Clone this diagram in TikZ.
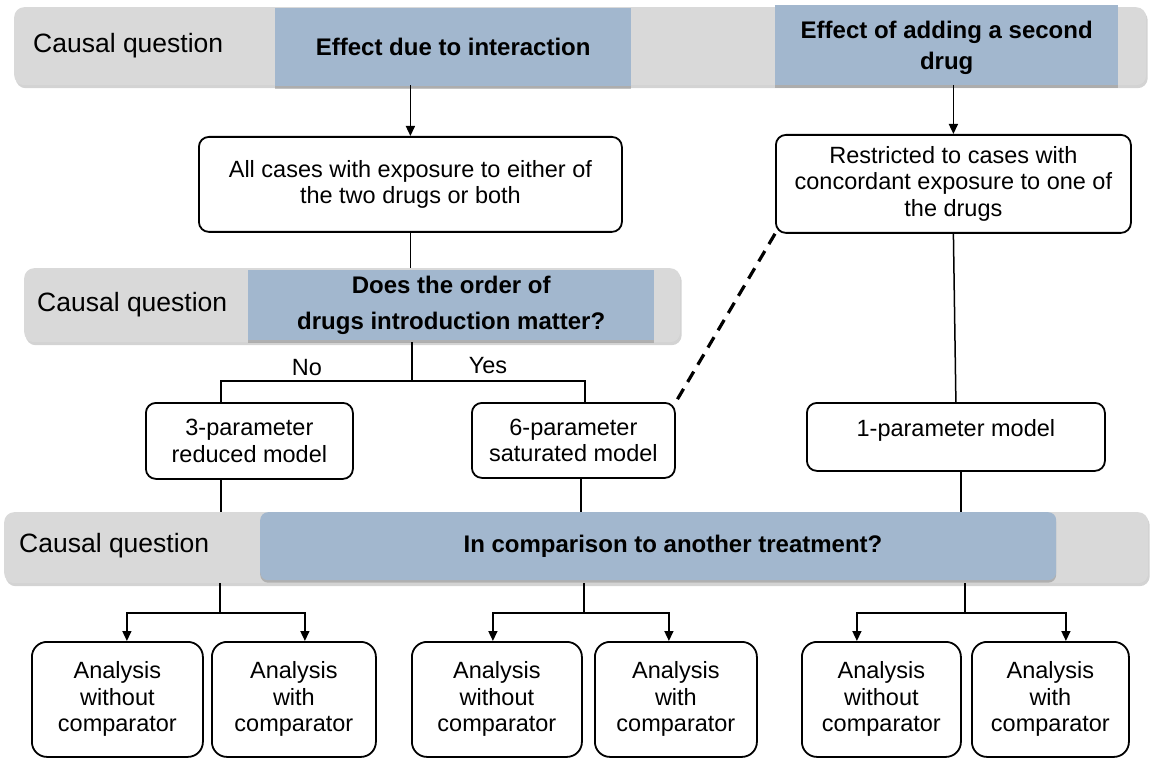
\documentclass[tikz,border=0pt]{standalone}
\usepackage{fontspec}
\setmainfont{Liberation Sans}
\usetikzlibrary{shadows,arrows.meta,calc}
\definecolor{barg}{RGB}{217,217,217}
\definecolor{barb}{RGB}{162,183,206}
\begin{document}
\begin{tikzpicture}[x=1pt,y=-1pt,
  txt/.style={font=\fontsize{23.5}{26.5}\selectfont},
  btxt/.style={font=\fontsize{24}{31}\selectfont\bfseries},
  cqtxt/.style={font=\fontsize{26.5}{30}\selectfont, anchor=west, inner sep=0pt},
  greybar/.style={fill=barg, rounded corners=10pt, anchor=north west, inner sep=0pt,
    drop shadow={shadow xshift=1.5pt, shadow yshift=-3pt, opacity=0.35}},
  bluebar/.style={fill=barb, anchor=north west, inner sep=0pt, align=center, btxt,
    drop shadow={shadow xshift=0pt, shadow yshift=-2.5pt, opacity=0.45}},
  box/.style={draw, line width=1.8pt, rounded corners=10pt, fill=white, anchor=north west,
    inner sep=0pt, align=center, txt},
  abox/.style={box, rounded corners=15pt, minimum height=115pt},
  conn/.style={line width=1.5pt},
  arr/.style={conn, -{Triangle[length=10pt,width=9pt]}},
  dashconn/.style={line width=3.2pt, dash pattern=on 12pt off 8pt},
]
\useasboundingbox (0,0) rectangle (1151,759);

% ---------- top bar ----------
\node[greybar, minimum width=1132pt, minimum height=78pt] (bar1) at (14,7) {};
\node[bluebar, minimum width=356pt, minimum height=78pt] (q1) at (275,8) {Effect due to interaction};
\node[bluebar, minimum width=343pt, minimum height=80pt] (q2) at (775,5) {};
\node[btxt, align=center] (q2t) at ($(q2.center)+(0,3)$) {Effect of adding a second\\drug};
\node[cqtxt] (cq1) at (33,46) {Causal question};

% ---------- second row ----------
\node[box, minimum width=423pt, minimum height=95pt] (all) at (198,136)
  {All cases with exposure to either of\\the two drugs or both};
\node[box, minimum width=355pt, minimum height=98pt] (restr) at (775,134)
  {Restricted to cases with\\concordant exposure to one of\\the drugs};

\draw[arr] (all.north |- bar1.south) -- (all.north);
\draw[arr] (restr.north |- bar1.south) -- (restr.north);

% ---------- second bar ----------
\node[greybar, minimum width=656pt, minimum height=74pt] (bar2) at (24,268) {};
\node[bluebar, minimum width=406pt, minimum height=70pt, font=\fontsize{24}{36}\selectfont\bfseries] (q3) at (248,270)
  {Does the order of\\drugs introduction matter?};
\node[cqtxt] (cq2) at (37,305) {Causal question};

\draw[conn] (all.south) -- (all.south |- bar2.north);

% ---------- models ----------
\node[box, minimum width=207pt, minimum height=76pt] (tp) at (145,402) {3-parameter\\reduced model};
\node[box, minimum width=203pt, minimum height=75pt] (sp) at (471,402) {6-parameter\\saturated model};
\node[box, minimum width=298pt, minimum height=68pt] (op) at (806,402) {\smash{1-parameter model}};

\coordinate (j2) at (412,381);
\draw[conn] (j2 |- bar2.south) -- (j2);
\draw[conn] ([xshift=-28.5pt]tp.north) |- (j2) -| ([xshift=11.5pt]sp.north);
\node[txt] (no) at (307,368) {No};
\node[txt] (yes) at (488,366) {Yes};

\draw[dashconn] (restr.south west) -- (sp.north east);
\draw[conn] (restr.south) -- (op.north);

% ---------- third bar ----------
\node[greybar, minimum width=1144pt, minimum height=71pt] (bar3) at (4,512) {};
\node[bluebar, rounded corners=8pt, minimum width=796pt, minimum height=68pt] (q4) at (260,512) {};
\node[btxt] (q4t) at (673,546) {In comparison to another treatment?};
\node[cqtxt] (cq3) at (19,546) {Causal question};

\draw[conn] ([xshift=-28.5pt]tp.south) -- ([xshift=-28.5pt]tp.south |- bar3.north);
\draw[conn] ([xshift=7.5pt]sp.south) -- ([xshift=7.5pt]sp.south |- bar3.north);
\draw[conn] ([xshift=5pt]op.south) -- ([xshift=5pt]op.south |- bar3.north);

% ---------- bottom boxes ----------
\node[abox, minimum width=171pt] (a1) at (31,641) {Analysis\\without\\comparator};
\node[abox, minimum width=164pt] (a2) at (211,641) {Analysis\\with\\comparator};
\node[abox, minimum width=170pt] (a3) at (411,641) {Analysis\\without\\comparator};
\node[abox, minimum width=162pt] (a4) at (594,641) {Analysis\\with\\comparator};
\node[abox, minimum width=159pt] (a5) at (801,641) {Analysis\\without\\comparator};
\node[abox, minimum width=157pt] (a6) at (971,641) {Analysis\\with\\comparator};

\coordinate (k1) at (220,613);
\coordinate (k2) at (584,613);
\coordinate (k3) at (965,613);
\draw[conn] (k1 |- bar3.south) -- (k1);
\draw[conn] (k2 |- bar3.south) -- (k2);
\draw[conn] (k3 |- bar3.south) -- (k3);
\draw[arr] (k1) -| ([xshift=9.5pt]a1.north);
\draw[arr] (k1) -| ([xshift=11pt]a2.north);
\draw[arr] (k2) -| ([xshift=-4pt]a3.north);
\draw[arr] (k2) -| ([xshift=-7pt]a4.north);
\draw[arr] (k3) -| ([xshift=-24.5pt]a5.north);
\draw[arr] (k3) -| ([xshift=15.5pt]a6.north);
\end{tikzpicture}
\end{document}
